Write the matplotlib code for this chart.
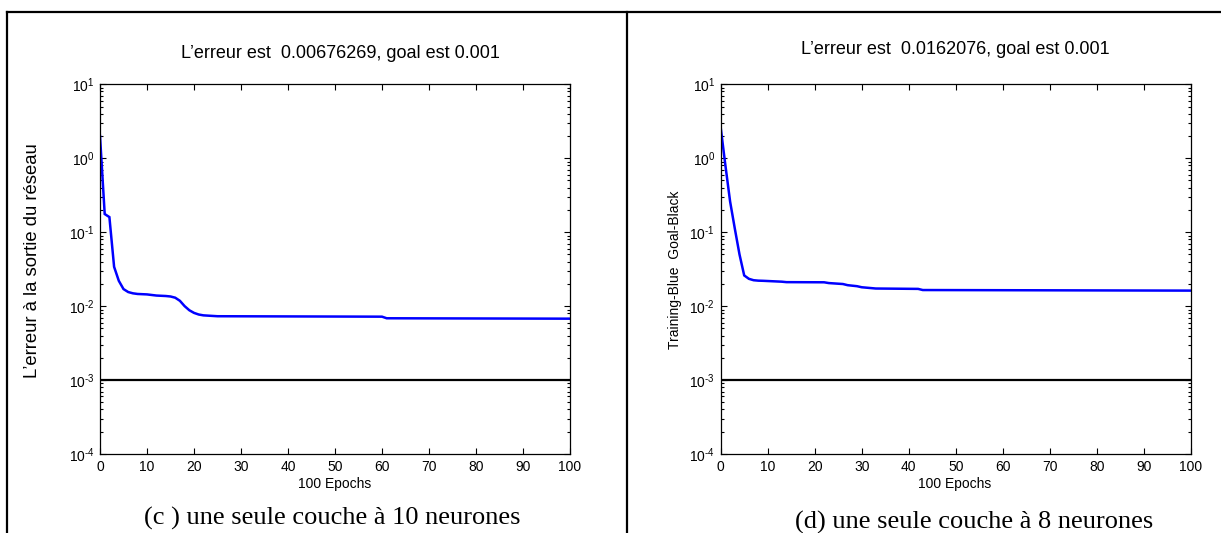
import matplotlib
matplotlib.use("Agg")
import matplotlib.pyplot as plt
from matplotlib.lines import Line2D
from matplotlib.ticker import LogLocator, NullFormatter, FuncFormatter
import math

plt.rcParams['font.family'] = ['Liberation Sans', 'DejaVu Sans']
plt.rcParams['mathtext.fontset'] = 'custom'
plt.rcParams['mathtext.rm'] = 'Liberation Sans'
plt.rcParams['mathtext.it'] = 'Liberation Sans'
plt.rcParams['mathtext.default'] = 'regular'

# Training performance, 10 hidden neurons (epoch, error)
epochs_c = [0, 1, 2, 3, 4, 5, 6, 7, 8, 10, 12, 14, 15, 16, 17, 18, 19, 20, 21,
            22, 25, 60, 61, 100]
error_c = [2.0, 0.176, 0.160, 0.034, 0.022, 0.0170, 0.0155, 0.0149, 0.0146,
           0.0144, 0.0139, 0.0137, 0.0135, 0.0130, 0.0118, 0.0100, 0.0088,
           0.0081, 0.0077, 0.0075, 0.0073, 0.0072, 0.00685, 0.00676269]

# Training performance, 8 hidden neurons (epoch, error)
epochs_d = [0, 1, 2, 3, 4, 5, 6, 7, 8, 9, 13, 14, 22, 23, 26, 27, 29, 30, 33,
            42, 43, 100]
error_d = [2.6, 0.80, 0.26, 0.112, 0.050, 0.026, 0.0234, 0.0224, 0.0221,
           0.0220, 0.0214, 0.0211, 0.0210, 0.0205, 0.0199, 0.0192, 0.0186,
           0.0180, 0.0173, 0.0171, 0.0165, 0.0162076]

goal = 0.001
x_ticks = [0, 10, 20, 30, 40, 50, 60, 70, 80, 90, 100]

titles = ["L\u2019erreur est  0.00676269, goal est 0.001",
          "L\u2019erreur est  0.0162076, goal est 0.001"]
ylabels = ["L\u2019erreur \u00e0 la sortie du r\u00e9seau", "Training-Blue  Goal-Black"]
xlabel = "100 Epochs"
captions = ["(c ) une seule couche \u00e0 10 neurones",
            "(d) une seule couche \u00e0 8 neurones"]

W, H = 1221, 533
fig = plt.figure(figsize=(W / 100, H / 100), dpi=100)
fig.patch.set_facecolor('white')


def px(x, y):
    return x / W, 1 - y / H


def decade_label(v, pos):
    e = int(round(math.log10(v)))
    return r'$10^{\text{%d}}$' % e


# table frame around the two panels
frame_kw = dict(color='black', lw=1.6, transform=fig.transFigure)
fig.add_artist(Line2D([7 / W, 1], [1 - 12 / H] * 2, **frame_kw))
fig.add_artist(Line2D([7.5 / W] * 2, [0, 1 - 12 / H], **frame_kw))
fig.add_artist(Line2D([626.5 / W] * 2, [0, 1 - 12 / H], **frame_kw))

panels = [
    dict(left=100, epochs=epochs_c, err=error_c),
    dict(left=720.7, epochs=epochs_d, err=error_d),
]
top, bottom, width = 84.3, 454, 470

for i, p in enumerate(panels):
    ax = fig.add_axes([p['left'] / W, (H - bottom) / H, width / W, (bottom - top) / H])
    ax.semilogy(p['epochs'], p['err'], color='#0000ff', lw=1.8, solid_joinstyle='miter')
    ax.axhline(goal, color='black', lw=1.6)
    ax.set_xlim(0, 100)
    ax.set_ylim(1e-4, 1e1)
    ax.set_xticks(x_ticks)
    ax.yaxis.set_major_locator(LogLocator(base=10, numticks=10))
    ax.yaxis.set_major_formatter(FuncFormatter(decade_label))
    ax.yaxis.set_minor_locator(LogLocator(base=10, subs=range(2, 10), numticks=20))
    ax.yaxis.set_minor_formatter(NullFormatter())
    ax.tick_params(which='both', direction='in', top=True, right=True,
                   labelsize=10, width=0.8, pad=4)
    ax.tick_params(which='major', length=4)
    ax.tick_params(which='minor', length=2.2)
    for s in ax.spines.values():
        s.set_linewidth(0.9)

# titles
fig.text(*px(340, 53), titles[0], ha='center', va='center', fontsize=13)
fig.text(*px(955, 50), titles[1], ha='center', va='center', fontsize=13)

# axis labels
fig.text(*px(33, 261), ylabels[0], ha='center', va='center', rotation=90, fontsize=13.3)
fig.text(*px(675, 270), ylabels[1], ha='center', va='center', rotation=90, fontsize=10)
fig.text(*px(335, 484), xlabel, ha='center', va='center', fontsize=10)
fig.text(*px(955, 484), xlabel, ha='center', va='center', fontsize=10)

# panel captions
fig.text(*px(332, 518), captions[0], ha='center', va='center', fontsize=19,
         family=['Liberation Serif', 'DejaVu Serif'])
fig.text(*px(974, 522), captions[1], ha='center', va='center', fontsize=19,
         family=['Liberation Serif', 'DejaVu Serif'])

fig.savefig('out.png', dpi=100)
